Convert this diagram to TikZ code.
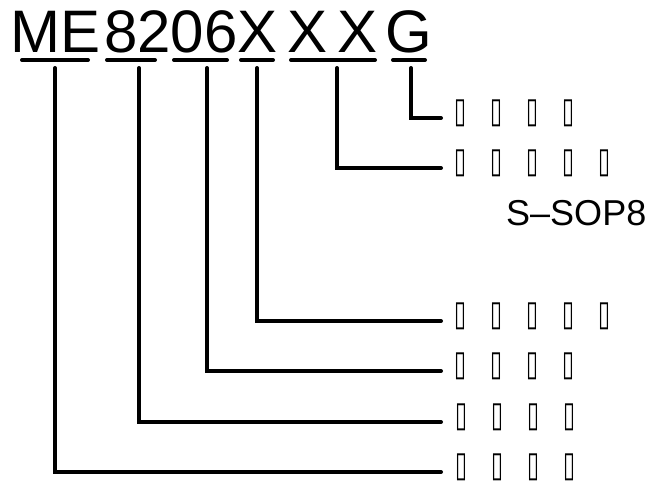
\documentclass[tikz,border=0pt]{standalone}
\usepackage{fontspec}
\setmainfont{Liberation Sans}
\newfontfamily\dejavu{DejaVu Sans}
\usepackage{graphicx}
\newcommand\tb{\makebox[36pt][l]{\resizebox*{12pt}{27pt}{\dejavu ▯}}}
\begin{document}
\begin{tikzpicture}[x=1pt,y=-1pt,
  conn/.style={line width=4pt, line cap=round, line join=miter},
  head/.style={inner sep=0pt, anchor=base west, font=\fontsize{60}{62}\selectfont},
  row/.style={inner sep=0pt, anchor=west},
]
\useasboundingbox (0,0) rectangle (648,491);
% part number
\node[head] (tME) at (10.5,52) {ME};
\node[head] (t8206X) at (104,52) {8206X};
\node[head] (tX1) at (287.5,52) {X};
\node[head] (tX2) at (337.5,52) {X};
\node[head] (tG) at (385,52) {G};
% underlines
\draw[conn] (22,60) -- (88,60);
\draw[conn] (107,60) -- (155,60);
\draw[conn] (174,60) -- (227,60);
\draw[conn] (241,60) -- (273,60);
\draw[conn] (291,60) -- (375,60);
\draw[conn] (393,60) -- (425,60);
% descriptions
\node[row] (rG)   at (454,113) {\tb\tb\tb\tb};
\node[row] (rXX)  at (454,163) {\tb\tb\tb\tb\tb};
\node[row] (rX)   at (454,316) {\tb\tb\tb\tb\tb};
\node[row] (r206) at (454,366) {\tb\tb\tb\tb};
\node[row] (r8)   at (455,417) {\tb\tb\tb\tb};
\node[row] (rME)  at (455,467) {\tb\tb\tb\tb};
\node[inner sep=0pt, anchor=base west, font=\fontsize{36}{40}\selectfont] (pkg) at (506,225) {S–SOP8};
% connector start points
\coordinate (sME) at (55,68);
\coordinate (s8) at (139,68);
\coordinate (s206) at (207,68);
\coordinate (sX) at (257,68);
\coordinate (sXX) at (337,68);
\coordinate (sG) at (411,68);
\draw[conn] (sG)   |- ([xshift=-13pt,yshift=-5pt]rG.west);
\draw[conn] (sXX)  |- ([xshift=-13pt,yshift=-5pt]rXX.west);
\draw[conn] (sX)   |- ([xshift=-13pt,yshift=-5pt]rX.west);
\draw[conn] (s206) |- ([xshift=-13pt,yshift=-5pt]r206.west);
\draw[conn] (s8)   |- ([xshift=-14pt,yshift=-5pt]r8.west);
\draw[conn] (sME)  |- ([xshift=-14pt,yshift=-5pt]rME.west);
\end{tikzpicture}
\end{document}
